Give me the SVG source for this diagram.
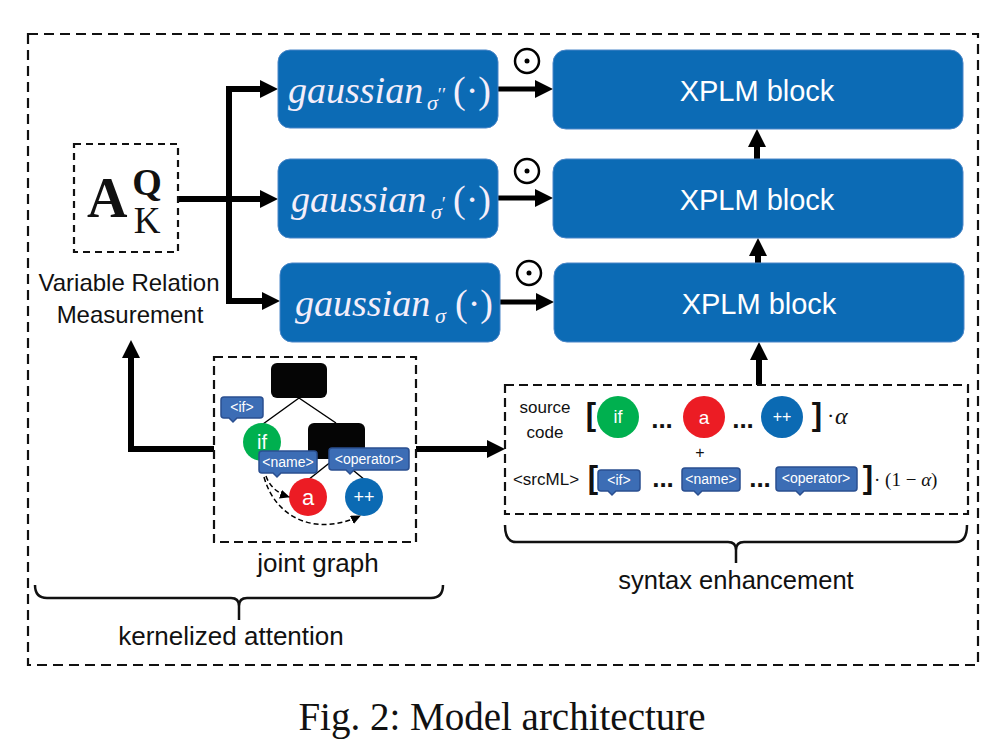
<svg xmlns="http://www.w3.org/2000/svg" width="1005" height="745" viewBox="0 0 1005 745">
<defs>
<style>
.dash{fill:none;stroke:#111;stroke-width:2.2}
.blk{fill:#0c6bb5;stroke:#4a86c8;stroke-width:1}
.gtx{font-family:"Liberation Serif",serif;fill:#f4eefa}
.xtx{font-family:"Liberation Sans",sans-serif;font-size:29px;fill:#fff;text-anchor:middle}
.lbl{font-family:"Liberation Sans",sans-serif;fill:#111;text-anchor:middle}
.tag{fill:#3c6db5;stroke:#2a4f90;stroke-width:1.5}
.tagt{font-family:"Liberation Sans",sans-serif;font-size:14px;fill:#fff;text-anchor:middle}
.ct{font-family:"Liberation Sans",sans-serif;fill:#fff;text-anchor:middle}
.thick{fill:none;stroke:#000;stroke-width:6;stroke-linejoin:miter}
.med{fill:none;stroke:#000;stroke-width:5}
.thin{fill:none;stroke:#000;stroke-width:1.5}
.brace{fill:none;stroke:#111;stroke-width:2.5}
.dots{font-family:"Liberation Sans",sans-serif;font-weight:bold;font-size:26px;fill:#111;text-anchor:middle}
.brk{font-family:"Liberation Sans",sans-serif;font-weight:bold;font-size:31px;fill:#111;text-anchor:middle}
.odot{fill:none;stroke:#000;stroke-width:2.5}
</style>
<marker id="ah" viewBox="0 0 18 18" markerWidth="18" markerHeight="18" refX="10" refY="9" orient="auto" markerUnits="userSpaceOnUse"><path d="M0,0 L18,9 L0,18 z" fill="#000"/></marker>
<marker id="ahs" viewBox="0 0 10 9" markerWidth="10" markerHeight="9" refX="9" refY="4.5" orient="auto" markerUnits="userSpaceOnUse"><path d="M0,0 L10,4.5 L0,9 z" fill="#000"/></marker>
</defs>
<rect width="1005" height="745" fill="#fff"/>

<!-- outer frame -->
<rect id="frame" x="28" y="34" width="950" height="631" class="dash" stroke-dasharray="10 6"/>

<!-- connectors -->
<g id="connectors">
<path class="thick" d="M178,199 H270" marker-end="url(#ah)"/>
<path class="thick" d="M229,199 V89 H270" marker-end="url(#ah)"/>
<path class="thick" d="M229,199 V301 H272" marker-end="url(#ah)"/>
<path class="med" d="M498,89 H545" marker-end="url(#ah)"/>
<path class="med" d="M498,198 H545" marker-end="url(#ah)"/>
<path class="med" d="M500,302 H546" marker-end="url(#ah)"/>
<path class="thick" d="M757,159 V137" marker-end="url(#ah)"/>
<path class="thick" d="M758,263 V246" marker-end="url(#ah)"/>
<path class="thick" d="M759,385 V350" marker-end="url(#ah)"/>
<path class="thick" d="M214,449 H131 V348" marker-end="url(#ah)"/>
<path class="thick" d="M416,449 H497" marker-end="url(#ah)"/>
</g>

<!-- A_K^Q -->
<g id="akq">
<rect x="74" y="144" width="104" height="108" class="dash" stroke-dasharray="7 5"/>
<text x="87" y="217" font-family="Liberation Serif,serif" font-size="56" font-weight="bold" fill="#111">A<tspan x="147" y="195" font-size="38" text-anchor="middle">Q</tspan><tspan x="147" y="233" font-size="37" font-weight="normal" text-anchor="middle">K</tspan></text>
</g>
<g id="vrm">
<text class="lbl" x="129" y="291" font-size="24">Variable Relation</text>
<text class="lbl" x="130" y="323" font-size="24">Measurement</text>
</g>

<!-- gaussian boxes -->
<g id="gauss2">
<rect class="blk" x="278" y="50" width="220" height="78" rx="12"/>
<text class="gtx" x="288" y="103" font-size="38"><tspan font-style="italic">gaussian</tspan><tspan x="427" y="110" font-size="22" font-style="italic">σ</tspan><tspan dy="-9" font-size="19">′′</tspan><tspan x="453" y="103" font-size="38">(·)</tspan></text>
</g>
<g id="gauss1">
<rect class="blk" x="278" y="159" width="220" height="79" rx="12"/>
<text class="gtx" x="291" y="212" font-size="38"><tspan font-style="italic">gaussian</tspan><tspan x="431" y="219" font-size="22" font-style="italic">σ</tspan><tspan dy="-9" font-size="19">′</tspan><tspan x="453" y="212" font-size="38">(·)</tspan></text>
</g>
<g id="gauss0">
<rect class="blk" x="280" y="263" width="220" height="79" rx="12"/>
<text class="gtx" x="295" y="316" font-size="38"><tspan font-style="italic">gaussian</tspan><tspan x="435" y="323" font-size="22" font-style="italic">σ</tspan><tspan x="455" y="316" font-size="38">(·)</tspan></text>
</g>

<!-- odot symbols -->
<g id="odots">
<circle class="odot" cx="527" cy="61" r="12"/><circle cx="527" cy="61" r="2.5"/>
<circle class="odot" cx="527" cy="171" r="12"/><circle cx="527" cy="171" r="2.5"/>
<circle class="odot" cx="529" cy="273" r="12"/><circle cx="529" cy="273" r="2.5"/>
</g>

<!-- XPLM blocks -->
<g id="xplm3">
<rect class="blk" x="553" y="50" width="410" height="79" rx="13"/>
<text class="xtx" x="757" y="101">XPLM block</text>
</g>
<g id="xplm2">
<rect class="blk" x="553" y="159" width="410" height="79" rx="13"/>
<text class="xtx" x="757" y="210">XPLM block</text>
</g>
<g id="xplm1">
<rect class="blk" x="554" y="263" width="410" height="79" rx="13"/>
<text class="xtx" x="759" y="314">XPLM block</text>
</g>

<!-- joint graph -->
<g id="jointgraph">
<rect x="214" y="357" width="202" height="185" class="dash" stroke-dasharray="9 5" stroke-width="2.5"/>
<path class="thin" d="M299,398 L263,424 M299,398 L336,423 M337,457 L308,480 M337,457 L365,480"/>
<rect x="271" y="363" width="56" height="35" rx="6" fill="#050505"/>
<rect x="308" y="423" width="57" height="36" rx="6" fill="#050505"/>
<circle cx="262" cy="442" r="19" fill="#00b04f"/>
<text class="ct" x="262" y="449" font-size="20">if</text>
<circle cx="308" cy="497" r="19" fill="#ec1c24"/>
<text class="ct" x="308" y="505" font-size="22">a</text>
<circle cx="364" cy="497" r="19" fill="#0b6ab3"/>
<text class="ct" x="364" y="503" font-size="18">++</text>
<path class="tag" d="M224,397 H260 Q263,397 263,400 V415 Q263,418 260,418 H237 L233,422 L229,418 H224 Q221,418 221,415 V400 Q221,397 224,397 Z"/>
<text class="tagt" x="242" y="412">&lt;if&gt;</text>
<path class="tag" d="M262,451 H314 Q317,451 317,454 V470 Q317,473 314,473 H281 L277,477 L273,473 H262 Q259,473 259,470 V454 Q259,451 262,451 Z"/>
<text class="tagt" x="288" y="467">&lt;name&gt;</text>
<path class="tag" d="M332,448 H406 Q409,448 409,451 V467 Q409,470 406,470 H354 L350,474 L346,470 H332 Q329,470 329,467 V451 Q329,448 332,448 Z"/>
<text class="tagt" x="369" y="464">&lt;operator&gt;</text>
<path fill="none" stroke="#000" stroke-width="1.5" stroke-dasharray="5 3" d="M266,476 Q271,491 289,497" marker-end="url(#ahs)"/>
<path fill="none" stroke="#000" stroke-width="1.5" stroke-dasharray="5 3" d="M264,477 C276,520 318,536 360,516" marker-end="url(#ahs)"/>
<text class="lbl" x="318" y="572" font-size="26">joint graph</text>
</g>

<!-- syntax enhancement -->
<g id="syntax">
<rect x="505" y="385" width="463" height="129" class="dash" stroke-dasharray="9 5" stroke-width="2.5"/>
<text class="lbl" x="545" y="413" font-size="17">source</text>
<text class="lbl" x="545" y="438" font-size="17">code</text>
<text class="brk" x="591" y="425">[</text>
<circle cx="618" cy="417" r="21" fill="#00b04f"/>
<text class="ct" x="618" y="423" font-size="18">if</text>
<text class="dots" x="662" y="428">...</text>
<circle cx="704" cy="417" r="21" fill="#ec1c24"/>
<text class="ct" x="704" y="424" font-size="19">a</text>
<text class="dots" x="743" y="428">...</text>
<circle cx="782" cy="417" r="21" fill="#0b6ab3"/>
<text class="ct" x="782" y="422" font-size="16">++</text>
<text class="brk" x="817" y="425">]</text>
<text x="827" y="423" font-family="Liberation Serif,serif" font-size="22" fill="#111">·<tspan x="835" y="424" font-style="italic" font-size="24">α</tspan></text>
<text class="lbl" x="700" y="458" font-size="16">+</text>
<text class="lbl" x="546" y="485" font-size="17">&lt;srcML&gt;</text>
<text class="brk" x="593" y="488">[</text>
<path class="tag" d="M601,470 H637 Q640,470 640,473 V488 Q640,491 637,491 H616 L612,495 L608,491 H601 Q598,491 598,488 V473 Q598,470 601,470 Z"/>
<text class="tagt" x="619" y="485">&lt;if&gt;</text>
<text class="dots" x="663" y="487">...</text>
<path class="tag" d="M685,468 H737 Q740,468 740,471 V488 Q740,491 737,491 H702 L698,495 L694,491 H685 Q682,491 682,488 V471 Q682,468 685,468 Z"/>
<text class="tagt" x="711" y="484">&lt;name&gt;</text>
<text class="dots" x="760" y="487">...</text>
<path class="tag" d="M779,467 H854 Q857,467 857,470 V488 Q857,491 854,491 H804 L800,495 L796,491 H779 Q776,491 776,488 V470 Q776,467 779,467 Z"/>
<text class="tagt" x="816" y="483">&lt;operator&gt;</text>
<text class="brk" x="868" y="488">]</text>
<text x="874" y="486" font-family="Liberation Serif,serif" font-size="19" fill="#111">· (1 − <tspan font-style="italic">α</tspan>)</text>
</g>

<!-- braces -->
<g id="brace-kernel">
<path class="brace" d="M35,585 Q35,598 47,598 H231 Q239,598 239,606 V620 M239,606 Q239,598 247,598 H431 Q443,598 443,585"/>
<text class="lbl" x="231" y="645" font-size="26">kernelized attention</text>
</g>
<g id="brace-syntax">
<path class="brace" d="M505,525 Q505,542 516,542 H728 Q736,542 736,550 V563 M736,550 Q736,542 744,542 H956 Q967,542 967,525"/>
<text class="lbl" x="736" y="589" font-size="25.5">syntax enhancement</text>
</g>

<text id="caption" x="502" y="730" font-family="Liberation Serif,serif" font-size="39" fill="#111" text-anchor="middle">Fig. 2: Model architecture</text>
</svg>
